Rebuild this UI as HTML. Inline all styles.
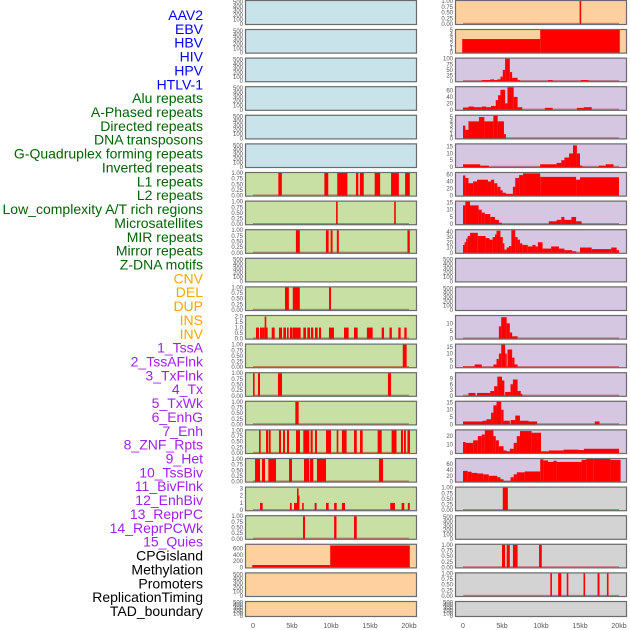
<!DOCTYPE html>
<html><head><meta charset="utf-8"><style>
html,body{margin:0;padding:0;background:#fff;}
svg{display:block;font-family:"Liberation Sans",sans-serif;}
</style></head><body>
<svg id="chart" width="630" height="630" viewBox="0 0 630 630" xmlns="http://www.w3.org/2000/svg"></svg>
<script>
const trackLabels = ["AAV2","EBV","HBV","HIV","HPV","HTLV-1","Alu repeats","A-Phased repeats","Directed repeats","DNA transposons","G-Quadruplex forming repeats","Inverted repeats","L1 repeats","L2 repeats","Low_complexity A/T rich regions","Microsatellites","MIR repeats","Mirror repeats","Z-DNA motifs","CNV","DEL","DUP","INS","INV","1_TssA","2_TssAFlnk","3_TxFlnk","4_Tx","5_TxWk","6_EnhG","7_Enh","8_ZNF_Rpts","9_Het","10_TssBiv","11_BivFlnk","12_EnhBiv","13_ReprPC","14_ReprPCWk","15_Quies","CPGisland","Methylation","Promoters","ReplicationTiming","TAD_boundary"];
const labelGroups = ["v","v","v","v","v","v","r","r","r","r","r","r","r","r","r","r","r","r","r","s","s","s","s","s","c","c","c","c","c","c","c","c","c","c","c","c","c","c","c","k","k","k","k","k"];
const xTickValues = [0,5,10,15,20];
const xTickLabels = ["0","5kb","10kb","15kb","20kb"];
const leftBg = ["b","b","b","b","b","b","g","g","g","g","g","g","g","g","g","g","g","g","g","o","o","o"];
const rightBg = ["o","o","p","p","p","p","p","p","p","p","p","p","p","p","p","p","p","gr","gr","gr","gr","gr"];
const ticksEmpty = [0,100,200,300,400,500];
const ticksUnit = [0,0.25,0.5,0.75,1];
// left column segments [startKb,endKb,value]
const L6 = [[3.25,3.7,1],[9.15,9.65,1],[10.8,12.1,1],[13.2,13.5,1],[13.7,14.2,1],[15.6,16.3,1],[17.7,18.7,1],[19.5,20.1,1]];
const L7 = [[10.65,10.85,1],[18.1,18.3,1]];
const L8 = [[5.5,6.0,1],[9.35,9.7,1],[9.95,10.2,1],[10.75,11.0,1],[19.8,20.1,1]];
const L10 = [[4.1,4.6,1],[5.1,6.0,1],[9.75,10.0,1]];
const L11 = [[0.38,0.77,1],[0.9,1.24,1],[1.24,1.5,1],[1.5,1.6,2],[1.6,1.88,1],[2.4,2.78,1],[3.33,3.72,1],[3.89,4.23,1],[4.36,4.57,1],[4.74,5.09,1],[5.13,6.11,1],[6.45,6.79,1],[6.97,7.31,1],[7.43,7.73,1],[7.95,8.29,1],[8.46,8.72,1],[9.74,10.38,1],[11.67,12.26,1],[12.95,13.42,1],[14.6,15.34,1],[16.5,16.8,1],[17.5,17.8,1],[18.63,18.93,1],[19.4,19.7,1]];
const L12 = [[19.2,19.7,1]];
const L13 = [[0,0.1,1],[0.64,0.9,1],[3.2,3.72,1],[17.3,17.7,1]];
const L14 = [[5.43,5.85,1]];
const L15 = [[0.77,0.98,1],[1.67,1.97,1],[2.05,2.26,1],[3.33,3.59,1],[3.85,4.1,1],[4.36,4.62,1],[5.51,6.02,1],[6.45,7.22,1],[7.39,7.65,1],[7.95,8.2,1],[9.36,10.0,1],[10.73,10.94,1],[11.4,12.0,1],[12.95,13.3,1],[13.72,14.06,1],[15.98,16.5,1],[17.77,18.4,1],[18.97,19.23,1],[19.36,19.6,1],[19.8,20.13,1]];
const L16 = [[0.26,0.9,1],[1.15,1.54,1],[1.97,2.95,1],[4.62,5.0,1],[6.54,7.22,1],[7.31,7.73,1],[8.2,9.36,1],[16.15,16.67,1]];
const L17 = [[0.9,1.24,1],[4.74,4.96,1],[5.26,5.64,1],[5.64,5.75,3],[5.75,5.85,2],[6.3,6.45,1],[7.9,8.15,1],[9.36,9.7,1],[10.4,10.73,1],[11.4,11.8,1],[17.6,18.2,1],[19.05,19.4,1],[19.85,20.1,1]];
const L18 = [[6.41,6.67,1],[10.4,10.7,1],[12.95,13.3,1]];
const L19 = [[-0.1,9.9,75],[9.9,20.1,700]];
// right column segments
const R0 = [[14.95,15.08,1]];
const R1 = [[-0.1,9.9,3],[9.9,20.1,5]];
const R2 = [[2.4,3.5,5],[3.5,4.0,8],[4.0,4.4,5],[4.4,4.8,8],[4.8,5.1,20],[5.1,5.4,50],[5.4,6.0,100],[6.0,6.3,40],[6.3,7.0,15],[7.0,7.3,4],[10.9,11.5,5],[15.1,16.1,5]];
const R3 = [[0,0.7,7],[0.7,1.4,10],[1.4,2.4,8],[2.4,3.0,10],[3.0,3.6,8],[3.6,4.2,12],[4.2,4.5,30],[4.5,4.8,45],[4.8,5.4,62],[5.4,5.7,20],[5.7,6.5,70],[6.5,7.0,40],[7.0,7.6,8],[10.5,11.5,6],[14.6,15.5,6],[15.5,16.5,8]];
const R4 = [[0,0.3,3],[0.3,0.7,2],[0.7,2.05,4],[2.05,2.74,5],[2.74,3.89,4],[3.89,4.44,5.5],[4.44,5.25,4],[5.25,5.5,1]];
const R5 = [[0,2.2,2],[2.2,3.3,1],[9.9,12,2],[12,12.6,3],[12.6,13,5],[13,13.6,7],[13.6,14.1,10],[14.1,14.6,16],[14.6,15.0,10],[15.0,15.3,1],[17.4,18.3,1],[18.3,19.3,2]];
const R6 = [[0,0.3,57],[0.3,0.7,50],[0.7,1.3,35],[1.3,1.8,40],[1.8,3.2,45],[3.2,3.6,40],[3.6,4.0,45],[4.0,4.4,35],[4.4,4.8,25],[4.8,5.1,15],[5.1,5.5,8],[5.5,6.4,5],[6.4,6.7,25],[6.7,7.2,50],[7.2,7.7,58],[7.7,9.9,63],[9.9,14.5,53],[14.5,15,45],[15,20,52]];
const R7 = [[0,0.3,13],[0.3,0.9,16],[0.9,2.0,13],[2.0,2.4,10],[2.4,2.8,8],[2.8,3.5,7],[3.5,4.1,5],[4.1,4.6,3],[4.6,5.0,1],[11,12,2],[12,12.6,3],[12.6,13,5],[13,13.9,3],[13.9,14.5,5],[14.5,15.2,2]];
const R8 = [[0,0.2,15],[0.2,0.4,20],[0.4,0.6,27],[0.6,0.9,32],[0.9,1.9,38],[1.9,2.9,32],[2.9,3.4,28],[3.4,3.8,25],[3.8,4.1,30],[4.1,4.3,35],[4.3,4.8,42],[4.8,5.1,30],[5.1,5.3,18],[5.3,5.6,6],[5.6,5.9,10],[5.9,6.2,13],[6.2,6.7,43],[6.7,7.0,30],[7.0,7.3,25],[7.3,7.6,18],[7.6,8.3,15],[8.3,8.9,12],[8.9,9.3,15],[9.3,9.6,12],[9.6,10.2,20],[10.2,11.3,8],[11.3,12.3,12],[12.3,13,8],[13,14,5],[14,14.5,3],[15,16.5,10],[16.5,19,7],[19,19.7,10],[19.7,20,5]];
const R11 = [[4.6,4.9,8],[4.9,5.6,14],[5.6,6.0,10],[6.0,6.3,4],[6.3,7.0,1.5]];
const R12 = [[0,1.5,0.5],[1.5,2.4,2],[3.9,4.3,2],[4.3,4.6,6],[4.6,4.9,10],[4.9,5.4,17],[5.4,5.6,10],[5.7,6.3,13],[6.3,6.6,7],[6.6,7.0,2]];
const R13 = [[0.7,1.6,1.5],[1.8,3.5,1.5],[3.5,4.0,2.5],[4.0,4.4,5],[4.4,5.0,10],[5.0,5.3,8],[5.4,6.1,2],[6.1,6.4,6],[6.4,7.0,8.5],[7.0,7.4,2.5],[7.4,7.6,1]];
const R14 = [[0,2.5,2],[2.5,3.0,2.5],[3.0,3.6,3.5],[3.6,3.9,8],[3.9,4.3,13],[4.3,4.9,16],[4.9,5.2,10],[5.2,6.0,2.5],[6.1,6.7,3],[6.7,7.3,6],[7.3,8.4,2.5],[8.4,9.5,2],[16.9,17.5,2]];
const R15 = [[0,0.35,13],[0.35,1.3,12],[1.3,1.9,15],[1.9,2.4,20],[2.4,2.8,22],[2.8,3.9,27],[3.9,4.2,20],[4.2,4.6,15],[4.6,5.2,8],[5.2,5.6,3],[5.6,6.0,2],[6.0,6.5,5],[6.5,6.9,12],[6.9,7.3,20],[7.3,8.8,26],[8.8,10,24],[10,11,2],[11,12.9,3],[12.9,14.8,4],[14.8,15.5,3.5],[15.5,20,5]];
const R16 = [[0,0.6,37],[0.6,1.1,34],[1.1,1.8,30],[1.8,2.6,28],[2.6,3.3,25],[3.3,4.4,20],[4.4,4.8,15],[4.8,5.2,8],[5.2,6.1,2],[6.1,6.5,15],[6.5,6.9,25],[6.9,7.9,32],[7.9,9.9,35],[9.9,10.3,77],[10.3,10.9,73],[10.9,11.6,68],[11.6,12,72],[12,15.2,68],[15.2,15.8,75],[15.8,16.7,78],[16.7,18.9,78],[18.9,20.2,75]];
const R17 = [[5.1,5.75,1]];
const R19 = [[5.0,5.4,1],[5.6,6.0,1],[6.4,7.0,1],[9.75,10.1,1]];
const R20 = [[11.2,11.4,1],[12.2,12.6,1],[13.3,13.45,1],[15.45,15.6,1],[17.25,17.5,1],[18.45,18.6,1]];

const E = null;
const leftPanels = [E,E,E,E,E,E,
 {segs:L6,ymax:1,ticks:ticksUnit,d:2},{segs:L7,ymax:1,ticks:ticksUnit,d:2},{segs:L8,ymax:1,ticks:ticksUnit,d:2},E,
 {segs:L10,ymax:1,ticks:ticksUnit,d:2},{segs:L11,ymax:2.05,ticks:[0,0.5,1,1.5,2],d:1},
 {segs:L12,ymax:1,ticks:ticksUnit,d:2},{segs:L13,ymax:1,ticks:ticksUnit,d:2},{segs:L14,ymax:1,ticks:ticksUnit,d:2},
 {segs:L15,ymax:1,ticks:ticksUnit,d:2},{segs:L16,ymax:1,ticks:ticksUnit,d:2},{segs:L17,ymax:3.1,ticks:[0,1,2,3],d:0},
 {segs:L18,ymax:1,ticks:ticksUnit,d:2},{segs:L19,ymax:720,ticks:[0,200,400,600],d:0,nobase:true},E,E];
const rightPanels = [{segs:R0,ymax:1,ticks:ticksUnit,d:2},{segs:R1,ymax:5,ticks:[0,1,2,3,4,5],d:0,nobase:true},
 {segs:R2,ymax:100,ticks:[0,25,50,75,100],d:0},{segs:R3,ymax:70,ticks:[0,20,40,60],d:0},
 {segs:R4,ymax:5.3,ticks:[0,1,2,3,4,5],d:0},{segs:R5,ymax:16.7,ticks:[0,5,10,15],d:0},
 {segs:R6,ymax:64,ticks:[0,20,40,60],d:0},{segs:R7,ymax:15.6,ticks:[0,5,10,15],d:0},
 {segs:R8,ymax:43,ticks:[0,10,20,30,40],d:0},E,E,
 {segs:R11,ymax:14.8,ticks:[0,5,10],d:0},{segs:R12,ymax:16.6,ticks:[0,5,10,15],d:0},
 {segs:R13,ymax:11.8,ticks:[0,3,6,9],d:0},{segs:R14,ymax:15.4,ticks:[0,5,10,15],d:0},
 {segs:R15,ymax:26.8,ticks:[0,10,20],d:0},{segs:R16,ymax:78,ticks:[0,20,40,60],d:0},
 {segs:R17,ymax:1,ticks:ticksUnit,d:2},E,{segs:R19,ymax:1,ticks:ticksUnit,d:2},{segs:R20,ymax:1,ticks:ticksUnit,d:2},E];

const NS = "http://www.w3.org/2000/svg";
const svg = document.getElementById("chart");
const bgColors = {b:"#c9e3ea",g:"#c8e0a4",o:"#fed09f",p:"#d5c6e2",gr:"#d3d3d3"};
const labelColors = {v:"#0000ff",r:"#006400",s:"#ffa500",c:"#a020f0",k:"#000000"};
function mk(tag, attrs, parent){const e=document.createElementNS(NS,tag);for(const k in attrs)e.setAttribute(k,attrs[k]);(parent||svg).appendChild(e);return e;}
function rowTop(i){return i===0?0:0.4+28.6*i;}
function rowH(i){return i===21?16:(i===0?25:24.6);}
const cols = [{x0:245,x1:417,z:253,bg:leftBg,panels:leftPanels,tickX:243,name:"left"},{x0:455,x1:627,z:463,bg:rightBg,panels:rightPanels,tickX:453,name:"right"}];
const kbScale = 7.8;

// labels
trackLabels.forEach((t,i)=>{
  const e=mk("text",{x:203,y:(20+i*13.86).toFixed(1),"text-anchor":"end","font-size":"14",fill:labelColors[labelGroups[i]]});
  e.textContent=t;
  
  
});

cols.forEach(col=>{
  const xs = kb => col.z + kb*kbScale;
  for(let i=0;i<22;i++){
    const top=rowTop(i), h=rowH(i), bot=top+h;
    const g=mk("g",{});
    
    
    mk("rect",{x:col.x0,y:top,width:col.x1-col.x0,height:h,fill:bgColors[col.bg[i]]},g);
    const p=col.panels[i];
    const ymax = p?p.ymax:520;
    const ticks = p?p.ticks:ticksEmpty;
    const d = p?p.d:0;
    const ys = v => bot-1 - v/ymax*(h-2);
    ticks.forEach(tv=>{
      const tx=mk("text",{x:col.tickX,y:(ys(tv)+2).toFixed(1),"text-anchor":"end","font-size":"6",fill:"#555"},g);
      tx.textContent=tv.toFixed(d);
      
      
    });
    if(p){
      if(!p.nobase){
        const b=mk("rect",{x:xs(0),y:bot-2.2,width:20*kbScale,height:1.6,fill:"rgba(150,0,0,0.4)"},g);
        
        
      }
      p.segs.forEach(s=>{
        const x1=xs(s[0]), x2=xs(s[1]);
        const w=Math.max(1.6,x2-x1);
        const r=mk("rect",{x:x1.toFixed(2),y:ys(s[2]).toFixed(2),width:w.toFixed(2),height:(bot-1-ys(s[2])).toFixed(2),fill:"#ff0000"},g);
        
        
      });
    }
    mk("rect",{x:col.x0+0.5,y:top+0.5,width:col.x1-col.x0-1,height:h-1,fill:"none",stroke:"#6b6b6b","stroke-width":"1.2"},g);
  }
  xTickValues.forEach((v,k)=>{
    const t=mk("text",{x:xs(v),y:628,"text-anchor":"middle","font-size":"7",fill:"#555"});
    t.textContent=xTickLabels[k];
    
    
  });
});
</script>
</body></html>
